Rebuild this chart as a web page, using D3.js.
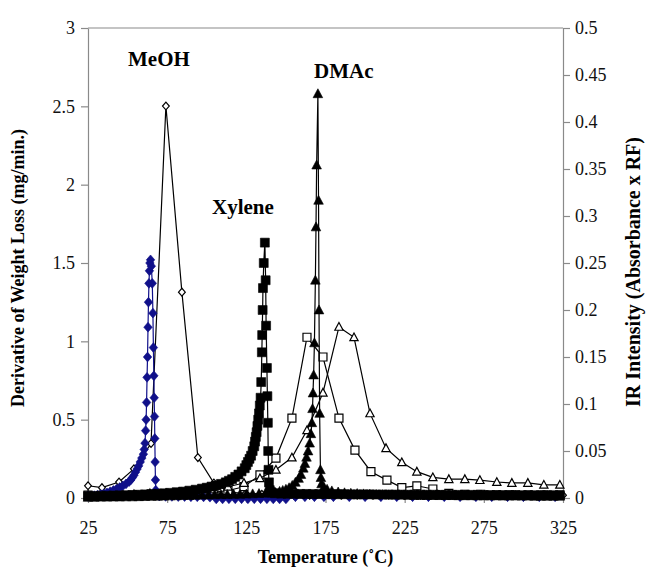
<!DOCTYPE html>
<html>
<head>
<meta charset="utf-8">
<script src="https://cdn.jsdelivr.net/npm/d3@7/dist/d3.min.js"></script>
<style>
  html, body { margin: 0; padding: 0; background: #fff; }
  svg text { font-family: "Liberation Serif", "Times New Roman", serif; }
</style>
</head>
<body>
<svg id="chart" width="648" height="572"></svg>
<script>
// ---------- DATA ----------
const xTicks = [25, 75, 125, 175, 225, 275, 325];
const yLeftTicks = ["0", "0.5", "1", "1.5", "2", "2.5", "3"];
const yRightTicks = ["0", "0.05", "0.1", "0.15", "0.2", "0.25", "0.3", "0.35", "0.4", "0.45", "0.5"];
const peakLabels = ["MeOH", "Xylene", "DMAc"];

// DTG (left axis, mg/min) - [temperature, value]
const meohDTG = [[25,0.01],[27,0.012],[29,0.015],[31,0.018],[33,0.022],[35,0.027],[37,0.033],[39,0.04],[41,0.048],[43,0.057],[45,0.067],[47,0.078],[49,0.09],[51,0.105],[52,0.115],[53,0.13],[54,0.145],[55,0.165],[56,0.185],[57,0.205],[58,0.23],[59,0.255],[60,0.28],[60.5,0.31],[61,0.35],[61.4,0.43],[61.7,0.5],[62,0.61],[62.3,0.77],[62.6,0.9],[62.9,1.09],[63.2,1.25],[63.5,1.37],[63.8,1.45],[64.1,1.5],[64.5,1.52],[65,1.48],[65.6,1.37],[66,1.18],[66.3,0.96],[66.6,0.78],[66.8,0.64],[67,0.52],[67.2,0.38],[67.4,0.23],[67.6,0.115],[67.8,0.05],[68.5,0.02],[70,0.012],[74,0.01],[78,0.01],[82,0.009],[86,0.009],[90,0.008],[94,0.008],[98,0.007],[102,0.005],[106,-0.006],[110,-0.006],[114,-0.005],[118,-0.005],[122,-0.005],[126,-0.005],[130,-0.005],[134,-0.005],[138,-0.005],[142,-0.006],[146,-0.006],[150,-0.006],[156,0.008],[162,0.008],[168,0.008],[174,0.008],[180,0.008],[190,0.008],[200,0.008],[210,0.008],[220,0.008],[230,0.008],[240,0.008],[250,0.008],[260,0.008],[270,0.008],[280,0.008],[290,0.008],[300,0.008],[310,0.008],[320,0.008]];

const xyleneDTG = [[25,0.012],[29,0.013],[33,0.014],[37,0.015],[41,0.016],[45,0.017],[49,0.018],[53,0.019],[57,0.021],[61,0.023],[65,0.025],[69,0.027],[73,0.03],[77,0.033],[81,0.037],[85,0.041],[89,0.047],[93,0.053],[97,0.06],[100,0.066],[103,0.073],[106,0.08],[109,0.09],[112,0.1],[114,0.11],[116,0.12],[118,0.135],[120,0.15],[122,0.17],[124,0.19],[125,0.21],[126,0.23],[127,0.25],[128,0.27],[129,0.3],[130,0.33],[130.5,0.36],[131,0.39],[131.5,0.42],[132,0.46],[132.5,0.5],[133,0.54],[133.5,0.59],[134,0.64],[134.4,0.74],[134.8,0.93],[135,1.04],[135.3,1.2],[135.5,1.34],[136,1.5],[136.7,1.63],[137.2,1.39],[137.5,1.1],[138,0.83],[138.3,0.65],[138.6,0.48],[138.8,0.3],[139,0.18],[139.3,0.1],[139.8,0.05],[141,0.035],[143,0.03],[147,0.028],[151,0.027],[155,0.027],[159,0.026],[163,0.026],[167,0.025],[171,0.025],[175,0.025],[179,0.024],[183,0.024],[187,0.024],[191,0.023],[195,0.023],[199,0.023],[203,0.023],[207,0.022],[211,0.022],[215,0.022],[219,0.022],[223,0.022],[227,0.021],[231,0.021],[235,0.021],[239,0.021],[243,0.021],[247,0.02],[251,0.02],[255,0.02],[259,0.02],[263,0.02],[267,0.02],[271,0.02],[275,0.019],[279,0.019],[283,0.019],[287,0.019],[291,0.019],[295,0.019],[299,0.018],[303,0.018],[307,0.018],[311,0.018],[315,0.018],[319,0.018],[323,0.018]];

const dmacDTG = [[25,0.004],[29,0.004],[33,0.005],[37,0.005],[41,0.006],[45,0.006],[49,0.007],[53,0.007],[57,0.008],[61,0.009],[65,0.01],[69,0.011],[73,0.012],[77,0.013],[81,0.014],[85,0.015],[89,0.016],[93,0.017],[97,0.018],[101,0.019],[105,0.02],[109,0.021],[113,0.022],[117,0.023],[121,0.024],[125,0.025],[129,0.026],[133,0.028],[137,0.03],[140,0.033],[143,0.037],[146,0.042],[148,0.048],[150,0.055],[152,0.065],[154,0.08],[156,0.1],[158,0.125],[159.5,0.15],[161,0.19],[162,0.22],[163,0.26],[164,0.3],[165,0.35],[165.8,0.41],[166.4,0.48],[166.8,0.57],[167.1,0.67],[167.5,0.785],[168,0.99],[168.6,1.39],[169,1.73],[169.4,2.125],[170.2,2.58],[170.6,1.9],[170.9,1.2],[171.3,0.54],[171.8,0.18],[172.1,0.13],[172.5,0.09],[174,0.07],[176,0.055],[179,0.045],[183,0.038],[187,0.033],[191,0.03],[195,0.028],[199,0.026],[203,0.024],[207,0.022],[211,0.021],[215,0.02],[219,0.019],[223,0.018],[227,0.018],[231,0.017],[235,0.017],[239,0.016],[243,0.016],[247,0.015],[251,0.015],[255,0.015],[259,0.014],[263,0.014],[267,0.014],[271,0.013],[275,0.013],[279,0.013],[283,0.013],[287,0.012],[291,0.012],[295,0.012],[299,0.012],[303,0.012],[307,0.011],[311,0.011],[315,0.011],[319,0.011],[323,0.011]];

// IR intensity (right axis) - [temperature, value]
const meohIR = [[25,0.013],[33.8,0.011],[44.6,0.017],[54,0.031],[64.8,0.058],[74.2,0.417],[84.3,0.219],[94.4,0.043],[104.5,0.016],[114.6,0.006],[124.7,0.005],[134.8,0.004],[144.9,0.004],[155,0.003],[165,0.003],[175,0.003],[185,0.003],[195,0.003],[205,0.003],[215,0.003],[225,0.003],[235,0.003],[245,0.003],[255,0.003],[265,0.003],[275,0.003],[285,0.003],[295,0.003],[305,0.003],[315,0.003],[325,0.003]];

const xyleneIR = [[25,0.003],[34.5,0.003],[44.6,0.003],[54.7,0.003],[64.8,0.004],[74.9,0.004],[85,0.004],[95,0.005],[104.5,0.006],[113.4,0.008],[123.5,0.012],[133.6,0.0245],[143.7,0.0425],[153.8,0.085],[163.3,0.171],[173.4,0.15],[183.5,0.085],[193.6,0.051],[203.7,0.028],[213.8,0.019],[223.2,0.011],[232.7,0.013],[242.8,0.0096],[252.9,0.005],[263,0.004],[273,0.004],[283,0.003],[293,0.003],[303,0.003],[313,0.003],[323,0.003]];

const dmacIR = [[25,0.003],[33.8,0.003],[43.9,0.004],[54,0.004],[64.1,0.005],[74.2,0.005],[84.3,0.006],[94.4,0.007],[104.5,0.009],[113.4,0.012],[123.5,0.016],[133.6,0.021],[143.7,0.03],[153.8,0.043],[163.3,0.072],[173.4,0.112],[183.5,0.182],[193,0.171],[203.1,0.09],[213.2,0.053],[223.2,0.038],[232.7,0.028],[242.8,0.022],[252.9,0.02],[263,0.02],[272.5,0.019],[283.2,0.017],[292.7,0.016],[302.8,0.016],[312.9,0.014],[323,0.014]];

// ---------- LAYOUT ----------
const W = 648, H = 572;
const m = { left: 88, right: 85, top: 28, bottom: 74 };
const svg = d3.select("#chart");
const x = d3.scaleLinear().domain([25, 325]).range([m.left, W - m.right]);
const yL = d3.scaleLinear().domain([0, 3]).range([H - m.bottom, m.top]);
const yR = d3.scaleLinear().domain([0, 0.5]).range([H - m.bottom, m.top]);
const axisColor = "#8a8a8a";

// custom symbol types
const diamond = { draw(c, s) { const r = Math.sqrt(s) / 2; c.moveTo(0, -r * 1.15); c.lineTo(r, 0); c.lineTo(0, r * 1.15); c.lineTo(-r, 0); c.closePath(); } };
const square = { draw(c, s) { const r = Math.sqrt(s) / 2; c.rect(-r, -r, 2 * r, 2 * r); } };
const triangle = { draw(c, s) { const r = Math.sqrt(s) / 2; c.moveTo(0, -r * 1.1); c.lineTo(r * 1.05, r * 0.85); c.lineTo(-r * 1.05, r * 0.85); c.closePath(); } };

// frame & axes
svg.append("line").attr("x1", m.left).attr("x2", W - m.right).attr("y1", m.top).attr("y2", m.top)
  .attr("stroke", axisColor).attr("stroke-width", 1.2);

function styleAxis(g) {
  g.selectAll(".domain").attr("stroke", axisColor).attr("stroke-width", 1.2);
  g.selectAll(".tick line").attr("stroke", axisColor).attr("stroke-width", 1.2);
  g.selectAll(".tick text").attr("fill", "#111").style("font-size", "18px")
    .style("font-family", '"Liberation Serif", "Times New Roman", serif');
}

const gx = svg.append("g").attr("transform", `translate(0,${H - m.bottom})`)
  .call(d3.axisBottom(x).tickValues(xTicks).tickSize(5).tickSizeOuter(0).tickPadding(18).tickFormat(d3.format("d")));
styleAxis(gx);

const gyl = svg.append("g").attr("transform", `translate(${m.left},0)`)
  .call(d3.axisLeft(yL).tickValues(yLeftTicks.map(Number)).tickSize(7).tickSizeOuter(0).tickPadding(6)
    .tickFormat((d, i) => yLeftTicks[i]));
styleAxis(gyl);

const gyr = svg.append("g").attr("transform", `translate(${W - m.right},0)`)
  .call(d3.axisRight(yR).tickValues(yRightTicks.map(Number)).tickSize(7).tickSizeOuter(0).tickPadding(5)
    .tickFormat((d, i) => yRightTicks[i]));
styleAxis(gyr);

// axis titles
svg.append("text").attr("transform", `translate(24,268) rotate(-90)`)
  .attr("text-anchor", "middle").attr("font-weight", "bold").style("font-size", "18px")
  .text("Derivative of Weight Loss (mg/min.)");
svg.append("text").attr("transform", `translate(640,272) rotate(-90)`)
  .attr("text-anchor", "middle").attr("font-weight", "bold").style("font-size", "20px")
  .text("IR Intensity (Absorbance x RF)");
svg.append("text").attr("x", (m.left + W - m.right) / 2).attr("y", 563)
  .attr("text-anchor", "middle").attr("font-weight", "bold").style("font-size", "18px")
  .text("Temperature (˚C)");

// series drawing
function drawSeries(data, yScale, opt) {
  const g = svg.append("g");
  const line = d3.line().x(d => x(d[0])).y(d => yScale(d[1]));
  g.append("path").datum(data).attr("d", line).attr("fill", "none")
    .attr("stroke", opt.color).attr("stroke-width", 1.2);
  g.selectAll("path.pt").data(data).join("path").attr("class", "pt")
    .attr("transform", d => `translate(${x(d[0])},${yScale(d[1])})`)
    .attr("d", d3.symbol().type(opt.type).size(opt.size))
    .attr("fill", opt.fill).attr("stroke", opt.color).attr("stroke-width", opt.sw);
}

const blue = "#10108a";
drawSeries(meohIR, yR, { type: diamond, size: 46, fill: "#fff", color: "#000", sw: 1.2 });
drawSeries(xyleneIR, yR, { type: square, size: 64, fill: "#fff", color: "#000", sw: 1.2 });
drawSeries(dmacIR, yR, { type: triangle, size: 62, fill: "#fff", color: "#000", sw: 1.2 });
drawSeries(meohDTG, yL, { type: diamond, size: 72, fill: blue, color: blue, sw: 0.6 });
drawSeries(xyleneDTG, yL, { type: square, size: 80, fill: "#000", color: "#000", sw: 0.6 });
drawSeries(dmacDTG, yL, { type: triangle, size: 84, fill: "#000", color: "#000", sw: 0.6 });

// peak labels
const labelPos = [[128, 66], [212, 214], [314, 78]];
svg.selectAll("text.peak").data(peakLabels).join("text").attr("class", "peak")
  .attr("x", (d, i) => labelPos[i][0]).attr("y", (d, i) => labelPos[i][1])
  .attr("font-weight", "bold").style("font-size", "21px").text(d => d);
</script>
</body>
</html>
